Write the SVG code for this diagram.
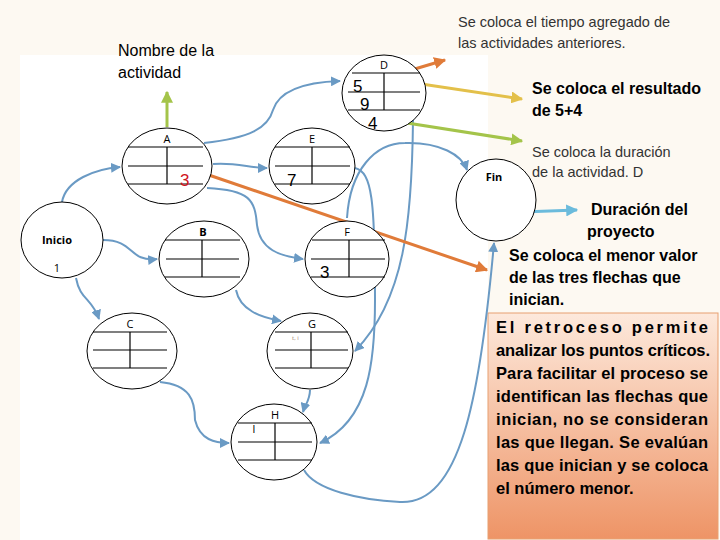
<svg xmlns="http://www.w3.org/2000/svg" width="720" height="540" viewBox="0 0 720 540">
<defs>
<style>
.n ellipse{fill:#fff;stroke:#000;stroke-width:1}
.n line{stroke:#000;stroke-width:1.2}
.lb{font-family:"Open Sans",sans-serif;font-size:11px;fill:#000;text-anchor:middle}
.num{font-family:"Liberation Sans",Arial,sans-serif;font-size:17px;fill:#000}
.c path{fill:none;stroke:#6a9ac4;stroke-width:2;marker-end:url(#bl)}
.t{font-family:"Liberation Sans",Arial,sans-serif;fill:#000}
.b{font-weight:bold;font-size:16px}
.bx{font-family:"Liberation Sans",Arial,sans-serif;font-weight:bold;font-size:16.5px;fill:#000}
</style>
<marker id="bl" viewBox="0 0 10 10" refX="9" refY="5" markerWidth="5" markerHeight="5" orient="auto"><path d="M0,0L10,5L0,10z" fill="#6a9ac4"/></marker>
<marker id="or" viewBox="0 0 10 10" refX="9" refY="5" markerWidth="4" markerHeight="4" orient="auto"><path d="M0,0L10,5L0,10z" fill="#e07b39"/></marker>
<marker id="ye" viewBox="0 0 10 10" refX="9" refY="5" markerWidth="4" markerHeight="4" orient="auto"><path d="M0,0L10,5L0,10z" fill="#e3c04a"/></marker>
<marker id="gr" viewBox="0 0 10 10" refX="9" refY="5" markerWidth="4" markerHeight="4" orient="auto"><path d="M0,0L10,5L0,10z" fill="#a4c44a"/></marker>
<marker id="lb" viewBox="0 0 10 10" refX="9" refY="5" markerWidth="4" markerHeight="4" orient="auto"><path d="M0,0L10,5L0,10z" fill="#6bbbdc"/></marker>
<linearGradient id="bg" x1="0" y1="0" x2="0" y2="1"><stop offset="0" stop-color="#fde9dc"/><stop offset="1" stop-color="#ee9466"/></linearGradient>
</defs>
<rect width="720" height="540" fill="#fdf9f2"/>
<rect x="20" y="55" width="468" height="485" fill="#fff"/>
<rect x="488" y="313" width="230" height="226" fill="url(#bg)" stroke="#e8a070" stroke-width="1"/>

<g id="connectors" class="c">
<path d="M62,202 C66,180 95,169 120,167"/>
<path d="M103,240 C135,240 128,262 157,259"/>
<path d="M76,278 C80,300 92,298 99,319"/>
<path d="M204,143 C250,138 268,128 273,110 C280,88 310,82 340,81"/>
<path d="M213,164 C235,162 250,168 267,168"/>
<path d="M207,188 C250,190 255,200 257,225 C260,250 280,256 303,259"/>
<path d="M355,168 C372,172 375,200 375,300 C375,360 370,420 320,443"/>
<path d="M413,120 C412,220 405,300 355,351"/>
<path d="M347,218 C350,170 375,143 405,143 C440,142 462,155 467,170"/>
<path d="M236,290 C240,310 260,317 281,321"/>
<path d="M160,382 C190,385 195,400 195,420 C200,440 215,443 229,443"/>
<path d="M310,390 C310,400 305,405 303,412"/>
<path d="M304,470 C315,490 360,500 400,502 C460,505 480,400 494,243"/>
</g>

<g id="annotations">
<path d="M167,127 V92" stroke="#a4c44a" stroke-width="3" marker-end="url(#gr)"/>
<path d="M371,82 L445,60" stroke="#e07b39" stroke-width="3" marker-end="url(#or)"/>
<path d="M408,82 L522,99" stroke="#e3c04a" stroke-width="3" marker-end="url(#ye)"/>
<path d="M388,120 L522,141" stroke="#a4c44a" stroke-width="3" marker-end="url(#gr)"/>
<path d="M200,172 L487,270" stroke="#e07b39" stroke-width="3" marker-end="url(#or)"/>
<path d="M498,213 L577,210" stroke="#6bbbdc" stroke-width="3" marker-end="url(#lb)"/>
</g>

<g id="A" class="n"><ellipse cx="167" cy="166" rx="45" ry="38"/><line x1="128" y1="147" x2="203" y2="147"/><line x1="128" y1="166" x2="203" y2="166"/><line x1="128" y1="184" x2="203" y2="184"/><line x1="167" y1="147" x2="167" y2="184"/><text class="lb" x="167" y="143">A</text><text class="num" x="180" y="186" fill="#d0141e" style="fill:#d0141e">3</text></g>
<g id="E" class="n"><ellipse cx="312" cy="166" rx="43" ry="38"/><line x1="275" y1="147" x2="350" y2="147"/><line x1="275" y1="166" x2="350" y2="166"/><line x1="275" y1="184" x2="350" y2="184"/><line x1="312" y1="147" x2="312" y2="184"/><text class="lb" x="312" y="143">E</text><text class="num" x="287" y="186">7</text></g>
<g id="D" class="n"><ellipse cx="384" cy="93" rx="42" ry="38"/><line x1="352" y1="73" x2="420" y2="73"/><line x1="348" y1="92" x2="420" y2="92"/><line x1="348" y1="110" x2="420" y2="110"/><line x1="384" y1="73" x2="384" y2="110"/><text class="lb" x="384" y="69">D</text><text class="num" x="353" y="92">5</text><text class="num" x="360" y="110">9</text><text class="num" x="368" y="129">4</text></g>
<g id="Inicio" class="n"><ellipse cx="62" cy="240" rx="41" ry="38"/><text class="lb" x="57" y="244" font-weight="bold">Inicio</text><text class="lb" x="57" y="272">1</text></g>
<g id="B" class="n"><ellipse cx="204" cy="259" rx="45" ry="38"/><line x1="165" y1="240" x2="240" y2="240"/><line x1="166" y1="259" x2="239" y2="259"/><line x1="165" y1="277" x2="240" y2="277"/><line x1="202" y1="240" x2="202" y2="277"/><text class="lb" x="203" y="236" font-weight="bold">B</text></g>
<g id="F" class="n"><ellipse cx="347" cy="259" rx="42" ry="38"/><line x1="312" y1="240" x2="385" y2="240"/><line x1="311" y1="259" x2="385" y2="259"/><line x1="311" y1="277" x2="385" y2="277"/><line x1="349" y1="240" x2="349" y2="277"/><text class="lb" x="347" y="236">F</text><text class="num" x="320" y="278">3</text></g>
<g id="C" class="n"><ellipse cx="132" cy="351" rx="45" ry="38"/><line x1="93" y1="332" x2="167" y2="332"/><line x1="93" y1="350" x2="167" y2="350"/><line x1="93" y1="368" x2="167" y2="368"/><line x1="130" y1="332" x2="130" y2="368"/><text class="lb" x="130" y="328">C</text></g>
<g id="G" class="n"><ellipse cx="310" cy="351" rx="43" ry="38"/><line x1="275" y1="332" x2="348" y2="332"/><line x1="275" y1="350" x2="348" y2="350"/><line x1="275" y1="368" x2="348" y2="368"/><line x1="311" y1="332" x2="311" y2="368"/><text class="lb" x="312" y="328">G</text><text x="292" y="340" font-family="Open Sans,sans-serif" font-size="6" fill="#a08070">t, i</text></g>
<g id="H" class="n"><ellipse cx="274" cy="442" rx="43" ry="38"/><line x1="238" y1="423" x2="312" y2="423"/><line x1="238" y1="442" x2="312" y2="442"/><line x1="238" y1="460" x2="312" y2="460"/><line x1="275" y1="423" x2="275" y2="460"/><text class="lb" x="275" y="419">H</text><text class="lb" x="254" y="433">l</text></g>
<g id="Fin" class="n"><ellipse cx="496" cy="200" rx="40" ry="41"/><text class="lb" x="494" y="181" font-weight="bold">Fin</text></g>

<g id="texts" class="t">
<text x="118" y="56" font-size="16">Nombre de la</text>
<text x="118" y="78" font-size="16">actividad</text>
<text x="458" y="27" font-size="14.5" fill="#333">Se coloca el tiempo agregado de</text>
<text x="458" y="48" font-size="14.5" fill="#333">las actividades anteriores.</text>
<text x="532" y="94" class="b">Se coloca el resultado</text>
<text x="532" y="116" class="b">de 5+4</text>
<text x="532" y="157" font-size="14.5" fill="#333">Se coloca la duración</text>
<text x="532" y="177" font-size="14.5" fill="#333">de la actividad. D</text>
<text x="591" y="215" class="b">Duración del</text>
<text x="587" y="237" class="b">proyecto</text>
<text x="509" y="261" class="b">Se coloca el menor valor</text>
<text x="509" y="283" class="b">de las tres flechas que</text>
<text x="509" y="305" class="b">inician.</text>
</g>
<g id="box">
<text class="bx" x="496" y="333" textLength="212" lengthAdjust="spacing">El retroceso permite</text>
<text class="bx" x="496" y="356" textLength="214" lengthAdjust="spacing">analizar los puntos críticos.</text>
<text class="bx" x="496" y="379" textLength="212" lengthAdjust="spacing">Para facilitar el proceso se</text>
<text class="bx" x="496" y="402" textLength="212" lengthAdjust="spacing">identifican las flechas que</text>
<text class="bx" x="496" y="425" textLength="212" lengthAdjust="spacing">inician, no se consideran</text>
<text class="bx" x="496" y="448" textLength="212" lengthAdjust="spacing">las que llegan. Se evalúan</text>
<text class="bx" x="496" y="471" textLength="212" lengthAdjust="spacing">las que inician y se coloca</text>
<text class="bx" x="496" y="494">el número  menor.</text>
</g>
</svg>
